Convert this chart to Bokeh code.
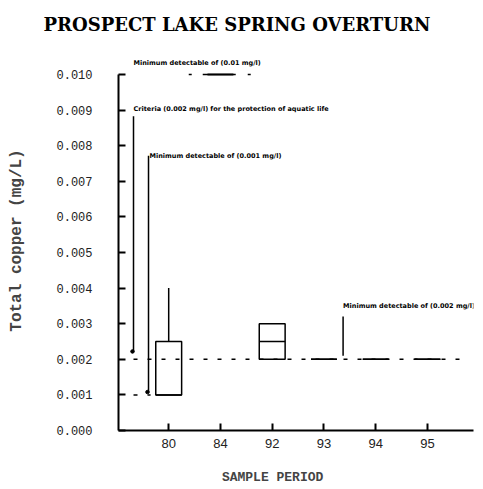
from bokeh.plotting import figure
from bokeh.models import Range1d, FixedTicker, Label, ColumnDataSource
from bokeh.embed import file_html
from bokeh.resources import INLINE

# Sample periods and box statistics for total copper (mg/L)
periods = ["80", "84", "92", "93", "94", "95"]
lower = [0.001, 0.010, 0.002, 0.002, 0.002, 0.002]
q1 = [0.001, 0.010, 0.002, 0.002, 0.002, 0.002]
median = [0.001, 0.010, 0.0025, 0.002, 0.002, 0.002]
q3 = [0.0025, 0.010, 0.003, 0.002, 0.002, 0.002]
upper = [0.004, 0.010, 0.003, 0.002, 0.002, 0.002]

y_ticks = [0.000, 0.001, 0.002, 0.003, 0.004, 0.005, 0.006, 0.007, 0.008, 0.009, 0.010]
y_tick_labels = ["0.000", "0.001", "0.002", "0.003", "0.004", "0.005",
                 "0.006", "0.007", "0.008", "0.009", "0.010"]

# Reference levels
criteria_level = 0.002
detect_84 = 0.01
detect_80 = 0.001
detect_93 = 0.002

xpos = list(range(len(periods)))
src = ColumnDataSource(dict(x=xpos, lower=lower, q1=q1, median=median, q3=q3, upper=upper))

p = figure(width=483, height=489, output_backend="svg", toolbar_location=None,
           x_range=Range1d(-0.97, 5.89), y_range=Range1d(0, 0.010674),
           min_border_left=118, min_border_right=10, min_border_top=50, min_border_bottom=59,
           background_fill_color="white", border_fill_color="white")
p.outline_line_color = None
p.grid.visible = False

p.title.text = "PROSPECT LAKE SPRING OVERTURN"
p.title.align = "left"
p.title.vertical_align = "top"
p.title.offset = -75
p.title.standoff = 27
p.title.text_font = "DejaVu Serif"
p.title.text_font_size = "18px"
p.title.text_font_style = "bold"
p.title.text_color = "black"

# axes
p.xaxis.ticker = FixedTicker(ticks=xpos)
p.xaxis.major_label_overrides = {i: s for i, s in enumerate(periods)}
p.yaxis.ticker = FixedTicker(ticks=y_ticks)
p.yaxis.major_label_overrides = {t: s for t, s in zip(y_ticks, y_tick_labels)}
p.yaxis.bounds = (0, 0.010)
for ax in (p.xaxis, p.yaxis):
    ax.axis_line_width = 2
    ax.axis_line_color = "black"
    ax.major_tick_in = 7
    ax.major_tick_out = 0
    ax.major_tick_line_width = 2
    ax.minor_tick_line_color = None
    ax.major_label_text_color = "#222222"
p.xaxis.major_label_text_font = "Liberation Sans"
p.xaxis.major_label_text_font_size = "13px"
p.xaxis.major_label_standoff = 8
p.yaxis.major_label_text_font = "Liberation Mono"
p.yaxis.major_label_text_font_size = "12px"
p.yaxis.major_label_standoff = 26

p.yaxis.axis_label = "Total copper (mg/L)"
p.yaxis.axis_label_text_font = "Liberation Mono"
p.yaxis.axis_label_text_font_size = "16px"
p.yaxis.axis_label_text_font_style = "bold"
p.yaxis.axis_label_standoff = 27

# trailing no-break spaces shift the centred label a little to the left
p.xaxis.axis_label = "SAMPLE PERIOD" + "\u00a0" * 6
p.xaxis.axis_label_text_font = "Liberation Mono"
p.xaxis.axis_label_text_font_size = "13px"
p.xaxis.axis_label_text_font_style = "bold"
p.xaxis.axis_label_standoff = 19

# guideline and detection-limit lines
p.segment(x0=-0.68, y0=criteria_level, x1=5.77, y1=criteria_level,
          line_color="black", line_width=1.5, line_dash="4 10")
p.segment(x0=-0.68, y0=detect_80, x1=-0.35, y1=detect_80,
          line_color="black", line_width=1.5, line_dash="4 10")
p.segment(x0=0.387, y0=detect_84, x1=1.586, y1=detect_84,
          line_color="black", line_width=1.5, line_dash="3 11 33 12")

# boxes, medians, whiskers
w = 0.5
p.vbar(x="x", bottom="q1", top="q3", width=w, source=src,
       fill_color=None, line_color="black", line_width=1.5)
p.segment(x0=[x - w / 2 for x in xpos], y0=median, x1=[x + w / 2 for x in xpos], y1=median,
          line_color="black", line_width=1.5)
p.segment(x0="x", y0="q3", x1="x", y1="upper", source=src, line_color="black", line_width=1.5)
p.segment(x0="x", y0="lower", x1="x", y1="q1", source=src, line_color="black", line_width=1.5)

# annotation leaders
p.segment(x0=[-0.68, -0.39, 3.37], y0=[0.00883, 0.00772, 0.0032],
          x1=[-0.68, -0.39, 3.37], y1=[0.00220, 0.00106, 0.0021],
          line_color="black", line_width=1.5)
p.scatter(x=[-0.70, -0.41], y=[0.00222, 0.00108], size=3.5, color="black")

note_font = dict(text_font="DejaVu Sans", text_font_size="6.5px", text_font_style="bold",
                 text_baseline="middle", text_align="left", text_color="black")
notes = [
    (-0.68, 0.01031, "Minimum detectable of (0.01 mg/l)"),
    (-0.68, 0.00904, "Criteria (0.002 mg/l) for the protection of aquatic life"),
    (-0.37, 0.00772, "Minimum detectable of (0.001 mg/l)"),
    (3.37, 0.00351, "Minimum detectable of (0.002 mg/l)"),
]
for nx, ny, txt in notes:
    p.add_layout(Label(x=nx, y=ny, text=txt, **note_font))

open("out.html", "w").write(file_html(p, INLINE))
